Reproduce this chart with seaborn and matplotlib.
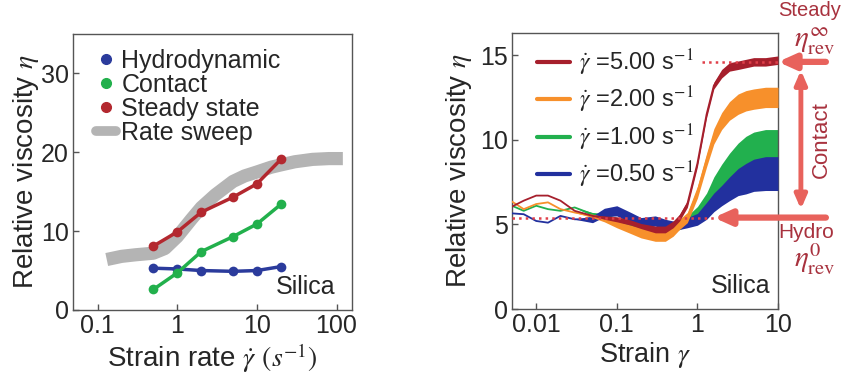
import numpy as np
import pandas as pd
import matplotlib
matplotlib.use("Agg")
import matplotlib.pyplot as plt
import matplotlib.ticker as mticker
from matplotlib.lines import Line2D
import seaborn as sns

# ---- left panel: relative viscosity vs strain rate ----
rates = [0.5, 1, 2, 5, 10, 20]
eta_hydro = [5.3, 5.2, 5.0, 4.9, 5.0, 5.5]
eta_contact = [2.6, 4.7, 7.4, 9.3, 10.9, 13.4]
eta_steady = [8.1, 9.9, 12.4, 14.3, 16.0, 19.1]

sweep_rate = [0.13, 0.2, 0.3, 0.5, 0.7, 1.0, 1.5, 2, 3, 5, 7, 10, 15, 20, 30, 50, 80, 120]
sweep_eta = [6.4, 6.8, 7.0, 7.2, 7.8, 9.3, 11.5, 13.0, 14.6, 16.3, 17.0, 17.5, 18.1, 18.4, 18.8, 19.1, 19.2, 19.2]

# ---- right panel: relative viscosity vs strain after reversal ----
strain = [0.005, 0.007, 0.01, 0.014, 0.02, 0.03, 0.05, 0.07, 0.1, 0.15, 0.2, 0.3, 0.4,
          0.5, 0.6, 0.75, 1.0, 1.3, 1.6, 2.0, 2.5, 3.2, 4.0, 5.0, 7.0, 10.0]
eta_5 = [6.05, 6.4, 6.7, 6.7, 6.4, 5.8, 5.5, 5.4, 5.3, 5.1, 4.9, 4.7, 4.7,
         5.0, 5.4, 6.2, 8.6, 11.5, 13.2, 13.9, 14.3, 14.4, 14.5, 14.6, 14.6, 14.7]
eta_2 = [6.35, 5.9, 6.2, 6.3, 5.9, 5.7, 5.5, 5.3, 5.0, 4.7, 4.5, 4.3, 4.3,
         4.6, 5.0, 5.4, 6.9, 8.8, 10.2, 11.1, 11.7, 12.1, 12.3, 12.4, 12.5, 12.5]
eta_1 = [6.1, 5.8, 6.1, 5.9, 5.8, 6.0, 5.6, 5.5, 5.2, 5.0, 4.8, 4.6, 4.6,
         4.8, 5.0, 5.2, 5.7, 6.4, 7.2, 7.8, 8.3, 8.8, 9.1, 9.3, 9.4, 9.4]
eta_05 = [5.65, 5.6, 5.2, 5.1, 5.5, 5.3, 5.3, 5.7, 5.8, 5.4, 5.1, 5.2, 5.0,
          4.9, 5.0, 5.1, 5.3, 5.8, 6.3, 6.7, 7.1, 7.5, 7.7, 7.9, 8.0, 8.0]
# noise half-widths
spread_5 = [0, 0, 0, 0, 0, 0, 0, 0.1, 0.15, 0.15, 0.15, 0.2, 0.2, 0.2, 0.2, 0.2, 0.2, 0.2, 0.2, 0.25, 0.25, 0.25, 0.25, 0.25, 0.25, 0.25]
spread_2 = [0, 0, 0, 0, 0, 0, 0.1, 0.15, 0.2, 0.25, 0.3, 0.3, 0.3, 0.3, 0.3, 0.3, 0.35, 0.4, 0.45, 0.5, 0.55, 0.6, 0.6, 0.6, 0.6, 0.6]
spread_1 = [0, 0, 0, 0, 0, 0, 0.1, 0.15, 0.2, 0.25, 0.25, 0.25, 0.25, 0.25, 0.3, 0.3, 0.35, 0.45, 0.6, 0.75, 0.9, 1.0, 1.1, 1.15, 1.2, 1.2]
spread_05 = [0, 0, 0, 0, 0, 0, 0.2, 0.25, 0.3, 0.3, 0.3, 0.3, 0.3, 0.3, 0.3, 0.3, 0.35, 0.5, 0.55, 0.6, 0.7, 0.8, 0.9, 0.95, 1.0, 1.0]
rate_labels = ["5.00", "2.00", "1.00", "0.50"]
eta_steady_rev = 14.6
eta_hydro_rev = 5.4

sns.set_style("ticks")
plt.rcParams["font.family"] = ["Liberation Sans", "DejaVu Sans"]
plt.rcParams["mathtext.fontset"] = "stix"

fig = plt.figure(figsize=(8.42, 3.78), dpi=100)
ax1 = fig.add_axes([0.0867, 0.180, 0.331, 0.730])
ax2 = fig.add_axes([0.608, 0.1825, 0.316, 0.730])

FS = 18
for ax in (ax1, ax2):
    for s in ax.spines.values():
        s.set_color("#555555")
        s.set_linewidth(1.0)
    ax.tick_params(direction="in", length=4, width=1, color="#555555",
                   labelsize=FS, pad=3)

# left panel
blue, green, red, grey = "#2b3b9c", "#22b04c", "#b3282f", "#b4b4b4"
ax1.plot(sweep_rate, sweep_eta, color=grey, lw=9.5, solid_capstyle="butt", zorder=1)
left = pd.DataFrame({"rate": rates * 3,
                     "eta": eta_hydro + eta_contact + eta_steady,
                     "kind": ["Hydrodynamic"] * 6 + ["Contact"] * 6 + ["Steady state"] * 6})
sns.lineplot(data=left, x="rate", y="eta", hue="kind", palette=[blue, green, red],
             marker="o", markersize=7, markeredgewidth=0, lw=2.5, ax=ax1,
             legend=False, zorder=3)
ax1.set_xscale("log")
ax1.set_xlim(0.049, 155)
ax1.set_ylim(0, 35)
ax1.set_xticks([0.1, 1, 10, 100])
ax1.xaxis.set_major_formatter(mticker.FixedFormatter(["0.1", "1", "10", "100"]))
ax1.xaxis.set_minor_locator(mticker.NullLocator())
ax1.set_yticks([0, 10, 20, 30])
ax1.set_xlabel(r"Strain rate $\dot{\gamma}$ $(s^{-1})$", fontsize=20, labelpad=2)
ax1.set_ylabel(r"Relative viscosity $\eta$", fontsize=20, labelpad=0)
handles = [Line2D([], [], ls="", marker="o", ms=7, color=blue),
           Line2D([], [], ls="", marker="o", ms=7, color=green),
           Line2D([], [], ls="", marker="o", ms=7, color=red),
           Line2D([], [], color=grey, lw=7)]
ax1.legend(handles, ["Hydrodynamic", "Contact", "Steady state", "Rate sweep"],
           loc="upper left", bbox_to_anchor=(0.03, 1.0), frameon=False,
           fontsize=18, handlelength=0.8, handletextpad=0.2, labelspacing=0.0,
           borderaxespad=0.2)
ax1.text(0.94, 0.04, "Silica", transform=ax1.transAxes, ha="right", va="bottom",
         fontsize=FS)

# right panel
c5, c2, c1, c05 = "#a61f2c", "#f7902b", "#22b04e", "#22309e"
series = [(eta_1, spread_1, c1, 2), (eta_05, spread_05, c05, 3),
          (eta_2, spread_2, c2, 4), (eta_5, spread_5, c5, 5)]
for eta, spread, col, z in series:
    lo = np.array(eta) - np.array(spread)
    hi = np.array(eta) + np.array(spread)
    ax2.fill_between(strain, lo, hi, color=col, lw=0, zorder=z)
    sns.lineplot(x=strain, y=eta, color=col, lw=1.3, ax=ax2, zorder=z)

ax2.plot([1.15, 10], [eta_steady_rev] * 2, ls=":", color="#e0404a", lw=1.8, zorder=6)
ax2.plot([0.005, 1.6], [eta_hydro_rev] * 2, ls=":", color="#e0404a", lw=1.8, zorder=6)

ax2.set_xscale("log")
ax2.set_xlim(0.005, 10)
ax2.set_ylim(0, 16.3)
ax2.set_xticks([0.01, 0.1, 1, 10])
ax2.xaxis.set_major_formatter(mticker.FixedFormatter(["0.01", "0.1", "1", "10"]))
ax2.xaxis.set_minor_locator(mticker.NullLocator())
ax2.set_yticks([0, 5, 10, 15])
ax2.set_xlabel(r"Strain $\gamma$", fontsize=19.5, labelpad=2)
ax2.set_ylabel(r"Relative viscosity $\eta$", fontsize=20, labelpad=4)

leg_handles = [Line2D([], [], color=c, lw=3) for c in (c5, c2, c1, c05)]
leg_labels = [r"$\dot{\gamma}$ =" + r + r" s$^{\mathrm{-1}}$" for r in rate_labels]
ax2.legend(leg_handles, leg_labels, loc="upper left", bbox_to_anchor=(0.04, 1.0),
           frameon=False, fontsize=17, handlelength=1.4, handletextpad=0.4,
           labelspacing=0.3, borderaxespad=0.2)
ax2.text(0.97, 0.04, "Silica", transform=ax2.transAxes, ha="right", va="bottom",
         fontsize=FS)

# arrows and labels outside the right panel
arrow_col = "#e8625c"
text_col = "#a8323e"
ax2.annotate("", xy=(1.0, eta_steady_rev), xycoords=("axes fraction", "data"),
             xytext=(1.18, eta_steady_rev), textcoords=("axes fraction", "data"),
             arrowprops=dict(arrowstyle="-|>,head_width=0.45,head_length=1.0",
                             color=arrow_col, lw=4.5, shrinkA=0, shrinkB=0),
             annotation_clip=False)
ax2.annotate("", xy=(1.6, eta_hydro_rev), xycoords="data",
             xytext=(1.18, eta_hydro_rev), textcoords=("axes fraction", "data"),
             arrowprops=dict(arrowstyle="-|>,head_width=0.45,head_length=1.0",
                             color=arrow_col, lw=4.5, shrinkA=0, shrinkB=0),
             annotation_clip=False, zorder=7)
ax2.annotate("", xy=(1.086, 14.1), xycoords=("axes fraction", "data"),
             xytext=(1.086, 5.9), textcoords=("axes fraction", "data"),
             arrowprops=dict(arrowstyle="<|-|>,head_width=0.35,head_length=0.8",
                             color=arrow_col, lw=3.5, shrinkA=0, shrinkB=0),
             annotation_clip=False)
ax2.text(1.163, 10.0, "Contact", transform=ax2.get_yaxis_transform(), rotation=90,
         ha="center", va="center", fontsize=16, color=text_col)
fig.text(0.962, 0.997, "Steady", ha="center", va="top", fontsize=14.5, color=text_col)
fig.text(0.968, 0.89, r"$\eta^{\infty}_{\mathrm{rev}}$", ha="center", va="center",
         fontsize=21, color=text_col)
fig.text(0.957, 0.385, "Hydro", ha="center", va="center", fontsize=15, color=text_col)
fig.text(0.968, 0.315, r"$\eta^{0}_{\mathrm{rev}}$", ha="center", va="center",
         fontsize=21, color=text_col)

fig.savefig("out.png", dpi=100)
